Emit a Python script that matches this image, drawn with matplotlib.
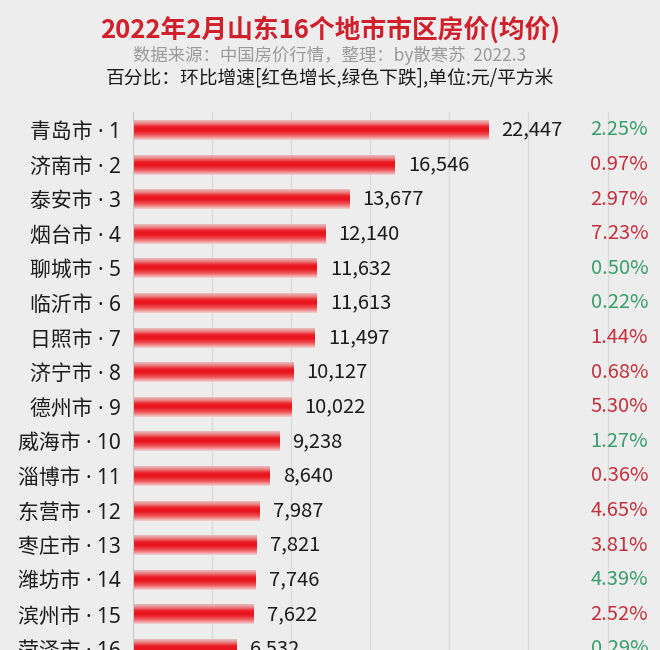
import numpy as np
import matplotlib
matplotlib.use("Agg")
from matplotlib import pyplot as plt
from matplotlib import transforms as mtransforms
from matplotlib.colors import LinearSegmentedColormap

plt.rcParams['font.family'] = ['Noto Sans CJK SC', 'DejaVu Sans']

cities = ["青岛市", "济南市", "泰安市", "烟台市", "聊城市", "临沂市", "日照市", "济宁市",
          "德州市", "威海市", "淄博市", "东营市", "枣庄市", "潍坊市", "滨州市", "菏泽市"]
prices = [22447, 16546, 13677, 12140, 11632, 11613, 11497, 10127,
          10022, 9238, 8640, 7987, 7821, 7746, 7622, 6532]
changes = ["2.25%", "0.97%", "2.97%", "7.23%", "0.50%", "0.22%", "1.44%", "0.68%",
           "5.30%", "1.27%", "0.36%", "4.65%", "3.81%", "4.39%", "2.52%", "0.29%"]
is_up = [False, True, True, True, False, False, True, True,
         True, False, True, True, True, False, True, False]

title = "2022年2月山东16个地市市区房价(均价)"
source = "数据来源：中国房价行情，整理：by散寒苏  2022.3"
note = "百分比：环比增速[红色增长,绿色下跌],单位:元/平方米"

bg = "#ededed"
red_txt = "#c4313d"
green_txt = "#3a9e6c"

fig = plt.figure(figsize=(6.6, 6.5), dpi=100, facecolor=bg)
ax = fig.add_axes([133 / 660, 0, 522 / 660, 538 / 650])
ax.set_facecolor(bg)

# glossy bar look: light edges, deep red centre
bar_cmap = LinearSegmentedColormap.from_list(
    "gloss", [(0.0, "#f3d6d6"), (0.22, "#ef5a5e"), (0.45, "#e8141c"),
              (0.62, "#e81a22"), (0.82, "#ec8a8c"), (1.0, "#e2cccc")])
grad = np.linspace(0, 1, 64).reshape(-1, 1)

ypos = np.arange(len(cities))
h = 0.58
bars = ax.barh(ypos, prices, height=h, color="none", edgecolor="none")
for b, y, v in zip(bars, ypos, prices):
    im = ax.imshow(grad, extent=[0, v, y - h / 2, y + h / 2], aspect="auto",
                   cmap=bar_cmap, interpolation="bicubic", zorder=2)
    im.set_clip_path(b)
    ax.annotate(f"{v:,}", (v, y), xytext=(9.5, 0), textcoords="offset points",
                ha="left", va="center", fontsize=14.5, color="#1c1c1c")

trans = mtransforms.blended_transform_factory(ax.transAxes, ax.transData)
for y, c, up in zip(ypos, changes, is_up):
    ax.text(0.987, y, c, transform=trans, ha="right", va="center",
            fontsize=14.5, color=red_txt if up else green_txt)

ax.set_xlim(0, 33000)
ax.set_ylim(len(cities) - 0.97, -0.52)
ax.set_xticks(np.arange(0, 30001, 5000))
ax.xaxis.grid(True, color="#d9d9d9", linewidth=0.9)
ax.set_axisbelow(True)
ax.tick_params(axis="x", length=0, labelbottom=False)
ax.set_yticks(ypos)
# Noto Sans first so the middle dot stays narrow, CJK glyphs fall back
ax.set_yticklabels([f"{c} · {i + 1}" for i, c in enumerate(cities)], fontsize=15,
                   color="#1c1c1c", family=["Noto Sans", "Noto Sans CJK SC"])
ax.tick_params(axis="y", length=0, pad=9)
for s in ["top", "right", "bottom"]:
    ax.spines[s].set_visible(False)
ax.spines["left"].set_color("#c9c9c9")

fig.text(0.5, 1 - 30 / 650, title, ha="center", va="center", fontsize=18.5,
         fontweight="bold", color="#d0202c")
fig.text(0.5, 1 - 55 / 650, source, ha="center", va="center", fontsize=12.5, color="#9a9a9a")
fig.text(0.5, 1 - 78 / 650, note, ha="center", va="center", fontsize=13.5, color="#1c1c1c")

fig.savefig("out.png", dpi=100, facecolor=bg)
